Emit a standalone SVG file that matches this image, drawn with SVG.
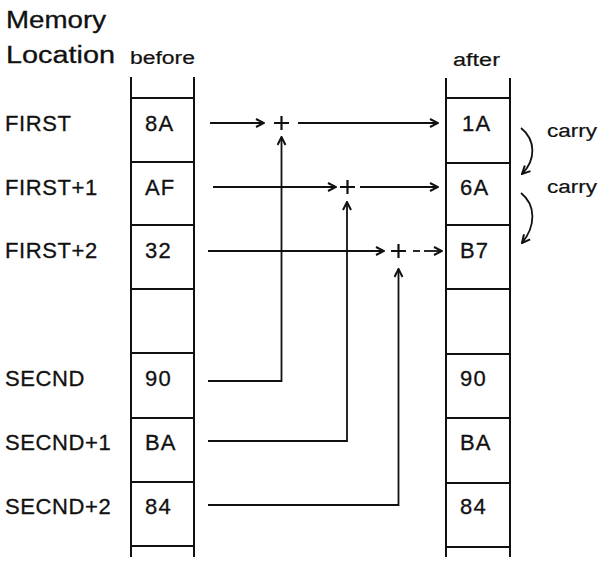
<svg xmlns="http://www.w3.org/2000/svg" width="613" height="561" viewBox="0 0 613 561">
  <style>
    text { font-family: "Liberation Sans", Arial, sans-serif; fill: #111; stroke: #111; stroke-width: 0.3px; }
    .hdr { font-size: 23px; }
    .sub { font-size: 18px; stroke-width: 0.2px; }
    .lbl { font-size: 22px; letter-spacing: 0.6px; }
    .val { font-size: 22px; letter-spacing: 1.2px; }
    .col { stroke: #111; stroke-width: 2; fill: none; }
    .conn { stroke: #111; stroke-width: 1.8; fill: none; }
    .arr { stroke: #111; stroke-width: 1.8; fill: none; marker-end: url(#ah); }
    .plus { stroke: #111; stroke-width: 2.2; fill: none; }
  </style>
  <defs>
    <marker id="ah" viewBox="0 0 10 10" refX="9" refY="5" markerWidth="10" markerHeight="10" markerUnits="userSpaceOnUse" orient="auto">
      <path d="M1,1 L9,5 L1,9" stroke="#111" stroke-width="2" fill="none"/>
    </marker>
  </defs>
  <rect width="613" height="561" fill="#fff"/>

  <g id="headers">
    <text class="hdr" x="6" y="28" textLength="100" lengthAdjust="spacingAndGlyphs">Memory</text>
    <text class="hdr" x="6" y="63" textLength="109" lengthAdjust="spacingAndGlyphs">Location</text>
    <text class="sub" x="130" y="64" textLength="65" lengthAdjust="spacingAndGlyphs">before</text>
    <text class="sub" x="453" y="66" textLength="47" lengthAdjust="spacingAndGlyphs">after</text>
  </g>

  <g id="labels">
    <text class="lbl" x="5" y="131">FIRST</text>
    <text class="lbl" x="5" y="195">FIRST+1</text>
    <text class="lbl" x="5" y="258">FIRST+2</text>
    <text class="lbl" x="5" y="386">SECND</text>
    <text class="lbl" x="5" y="450">SECND+1</text>
    <text class="lbl" x="5" y="514">SECND+2</text>
  </g>

  <g id="before-column">
    <path class="col" d="M131,77 V557 M194,77 V557"/>
    <path class="col" d="M131,98 H194 M131,162 H194 M131,225 H194 M131,289 H194 M131,353 H194 M131,418 H194 M131,482 H194 M131,546 H194"/>
    <text class="val" x="145" y="131">8A</text>
    <text class="val" x="145" y="195">AF</text>
    <text class="val" x="145" y="258">32</text>
    <text class="val" x="145" y="386">90</text>
    <text class="val" x="145" y="450">BA</text>
    <text class="val" x="145" y="514">84</text>
  </g>

  <g id="after-column">
    <path class="col" d="M446,78 V557 M510,78 V557"/>
    <path class="col" d="M446,98 H510 M446,163 H510 M446,225 H510 M446,289 H510 M446,354 H510 M446,418 H510 M446,483 H510 M446,547 H510"/>
    <text class="val" x="462" y="131" letter-spacing="3">1A</text>
    <text class="val" x="460" y="195" letter-spacing="3">6A</text>
    <text class="val" x="460" y="258" letter-spacing="4">B7</text>
    <text class="val" x="460" y="386">90</text>
    <text class="val" x="460" y="450">BA</text>
    <text class="val" x="460" y="514">84</text>
  </g>

  <g id="adders">
    <path class="plus" d="M274,123 H289 M281.5,116 V130"/>
    <path class="plus" d="M340,187 H355 M347.5,180 V194"/>
    <path class="plus" d="M391,251 H406 M398.5,244 V258"/>
  </g>

  <g id="carry-labels">
    <text class="sub" x="547" y="137" textLength="50" lengthAdjust="spacingAndGlyphs">carry</text>
    <text class="sub" x="547" y="193" textLength="50" lengthAdjust="spacingAndGlyphs">carry</text>
  </g>

  <g id="connectors">
    <path class="arr" d="M210,123 H264"/>
    <path class="arr" d="M298,123 H438"/>
    <path class="arr" d="M213,187 H336"/>
    <path class="arr" d="M360,187 H438"/>
    <path class="arr" d="M208,251 H384"/>
    <path class="conn" d="M413,251 H420"/>
    <path class="arr" d="M424,251 H442"/>
    <path class="arr" d="M208,381 H281.5 V137"/>
    <path class="arr" d="M208,441 H347 V202"/>
    <path class="arr" d="M208,505 H398.5 V269"/>
    <path class="arr" d="M521,128 C536,140 536,160 522,174"/>
    <path class="arr" d="M521,193 C536,205 536,226 522,243"/>
  </g>
</svg>
